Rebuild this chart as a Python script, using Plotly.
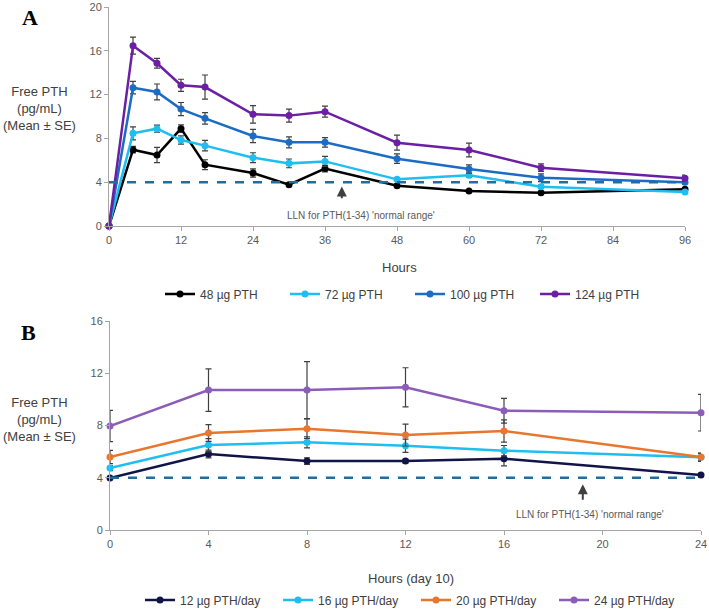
import plotly.graph_objects as go

# ---- Panel A data (single dose, hours 0-96) ----
hours_a = [0, 4, 8, 12, 16, 24, 30, 36, 48, 60, 72, 96]
pth48 = [0, 6.97, 6.48, 8.89, 5.6, 4.84, 3.77, 5.24, 3.68, 3.2, 3.04, 3.35]
pth48_se = [0, 0.3, 0.7, 0.35, 0.45, 0.38, 0.15, 0.3, 0.15, 0.1, 0.1, 0.1]
pth72 = [0, 8.46, 8.89, 7.85, 7.34, 6.24, 5.72, 5.9, 4.26, 4.63, 3.59, 3.1]
pth72_se = [0, 0.6, 0.33, 0.38, 0.48, 0.45, 0.4, 0.45, 0.15, 0.2, 0.15, 0.1]
pth100 = [0, 12.63, 12.24, 10.68, 9.83, 8.22, 7.64, 7.64, 6.15, 5.2, 4.41, 3.99]
pth100_se = [0, 0.57, 0.73, 0.6, 0.53, 0.6, 0.5, 0.43, 0.43, 0.38, 0.35, 0.15]
pth124 = [0, 16.47, 14.86, 12.85, 12.69, 10.2, 10.08, 10.44, 7.61, 6.94, 5.33, 4.35]
pth124_se = [0, 0.78, 0.45, 0.55, 1.1, 0.8, 0.6, 0.5, 0.68, 0.62, 0.35, 0.3]

# ---- Panel B data (day 10, hours 0-24) ----
hours_b = [0, 4, 8, 12, 16, 24]
d12 = [3.98, 5.82, 5.28, 5.28, 5.46, 4.21]
d12_se = [0.1, 0.3, 0.25, 0.15, 0.55, 0.15]
d16 = [4.74, 6.5, 6.71, 6.45, 6.07, 5.56]
d16_se = [0.2, 0.5, 0.43, 0.5, 0.4, 0.3]
d20 = [5.59, 7.42, 7.76, 7.27, 7.58, 5.59]
d20_se = [0.5, 0.64, 0.75, 0.84, 0.85, 0.3]
d24 = [7.96, 10.71, 10.71, 10.92, 9.13, 8.98]
d24_se = [1.2, 1.63, 2.18, 1.5, 0.95, 1.4]

LLN = 4

W, H = 709, 610
FONT = "Liberation Sans, Arial, sans-serif"
GREY = "#595959"
AXIS = "#A6A6A6"
ERR = "#404040"


def px(x):
    return x / W


def py(y):
    return 1 - y / H


fig = go.Figure()

series_a = [
    ("48 µg PTH", pth48, pth48_se, "#000000"),
    ("72 µg PTH", pth72, pth72_se, "#1EBEF0"),
    ("100 µg PTH", pth100, pth100_se, "#1C6CC4"),
    ("124 µg PTH", pth124, pth124_se, "#6B1FA3"),
]
for name, vals, se, col in series_a:
    fig.add_trace(go.Scatter(
        x=hours_a, y=vals, name=name, mode="lines+markers",
        line=dict(color=col, width=2.5), marker=dict(color=col, size=7),
        error_y=dict(type="data", array=se, color=ERR, thickness=1.2, width=3),
        xaxis="x", yaxis="y", legend="legend", cliponaxis=False,
    ))

series_b = [
    ("12 µg PTH/day", d12, d12_se, "#111447"),
    ("16 µg PTH/day", d16, d16_se, "#1EBEF0"),
    ("20 µg PTH/day", d20, d20_se, "#E8772E"),
    ("24 µg PTH/day", d24, d24_se, "#8C5DB8"),
]
for name, vals, se, col in series_b:
    fig.add_trace(go.Scatter(
        x=hours_b, y=vals, name=name, mode="lines+markers",
        line=dict(color=col, width=2.5), marker=dict(color=col, size=7),
        error_y=dict(type="data", array=se, color=ERR, thickness=1.2, width=3),
        xaxis="x2", yaxis="y2", legend="legend2", cliponaxis=False,
    ))

# LLN dashed lines
fig.add_trace(go.Scatter(x=[0, 96], y=[LLN, LLN], mode="lines", showlegend=False,
                         line=dict(color="#1F6E9E", width=2.5, dash="dash"),
                         xaxis="x", yaxis="y", hoverinfo="skip"))
fig.add_trace(go.Scatter(x=[0, 24], y=[LLN, LLN], mode="lines", showlegend=False,
                         line=dict(color="#1F6E9E", width=2.5, dash="dash"),
                         xaxis="x2", yaxis="y2", hoverinfo="skip"))

axis_common = dict(showline=True, linecolor=AXIS, linewidth=1, ticks="outside",
                   ticklen=4, tickcolor=AXIS, showgrid=False, zeroline=False,
                   automargin=False,
                   tickfont=dict(family=FONT, size=11, color=GREY))

fig.update_layout(
    width=W, height=H,
    margin=dict(l=0, r=0, t=0, b=0, autoexpand=False),
    paper_bgcolor="white", plot_bgcolor="white",
    xaxis=dict(domain=[px(109), px(685)], range=[0, 96], tickvals=list(range(0, 97, 12)),
               anchor="y", **axis_common),
    yaxis=dict(domain=[py(226), py(7)], range=[0, 20], tickvals=list(range(0, 21, 4)),
               anchor="x", **axis_common),
    xaxis2=dict(domain=[px(110), px(701)], range=[0, 24], tickvals=list(range(0, 25, 4)),
                anchor="y2", **axis_common),
    yaxis2=dict(domain=[py(530), py(321)], range=[0, 16], tickvals=list(range(0, 17, 4)),
                anchor="x2", **axis_common),
    legend=dict(orientation="h", x=px(160), y=py(294), xanchor="left", yanchor="middle",
                entrywidth=80, entrywidthmode="pixels", itemwidth=30,
                font=dict(family=FONT, size=12, color=ERR),
                bgcolor="rgba(0,0,0,0)"),
    legend2=dict(orientation="h", x=px(140), y=py(600), xanchor="left", yanchor="middle",
                 entrywidth=93, entrywidthmode="pixels", itemwidth=30,
                 font=dict(family=FONT, size=12, color=ERR),
                 bgcolor="rgba(0,0,0,0)"),
    showlegend=True,
)

ytitle = "Free PTH<br>(pg/mL)<br>(Mean ± SE)"
annotations = [
    dict(text="<b>A</b>", x=px(30), y=py(18), xref="paper", yref="paper", showarrow=False,
         xanchor="center", yanchor="middle",
         font=dict(family="Liberation Serif, Times New Roman, serif", size=22, color="black")),
    dict(text="<b>B</b>", x=px(28), y=py(332), xref="paper", yref="paper", showarrow=False,
         xanchor="center", yanchor="middle",
         font=dict(family="Liberation Serif, Times New Roman, serif", size=22, color="black")),
    dict(text=ytitle, x=px(39), y=py(108), xref="paper", yref="paper", showarrow=False,
         xanchor="center", yanchor="middle",
         font=dict(family=FONT, size=13, color=ERR)),
    dict(text=ytitle, x=px(39), y=py(419), xref="paper", yref="paper", showarrow=False,
         xanchor="center", yanchor="middle",
         font=dict(family=FONT, size=13, color=ERR)),
    dict(text="Hours", x=px(399), y=py(267), xref="paper", yref="paper", showarrow=False,
         xanchor="center", yanchor="middle",
         font=dict(family=FONT, size=13, color=ERR)),
    dict(text="Hours (day 10)", x=px(411), y=py(578), xref="paper", yref="paper", showarrow=False,
         xanchor="center", yanchor="middle",
         font=dict(family=FONT, size=13, color=ERR)),
    # LLN labels
    dict(text="LLN for PTH(1-34) 'normal range'", x=42, y=1.0, xref="x", yref="y",
         showarrow=False, font=dict(family=FONT, size=10, color=GREY)),
    dict(text="LLN for PTH(1-34) 'normal range'", x=19.5, y=1.15, xref="x2", yref="y2",
         showarrow=False, font=dict(family=FONT, size=10, color=GREY)),
    # arrows
    dict(text="", x=38.8, y=3.6, ax=38.8, ay=2.4, xref="x", yref="y", axref="x", ayref="y",
         showarrow=True, arrowhead=2, arrowsize=1, arrowwidth=2, arrowcolor=ERR),
    dict(text="", x=19.2, y=3.5, ax=19.2, ay=2.2, xref="x2", yref="y2", axref="x2", ayref="y2",
         showarrow=True, arrowhead=2, arrowsize=1, arrowwidth=2, arrowcolor=ERR),
]
fig.update_layout(annotations=annotations)

# drop the default 8px body margin so the figure fills the window
fig.write_html("out.html", config={"displayModeBar": False},
               post_script="document.body.style.margin='0';")
